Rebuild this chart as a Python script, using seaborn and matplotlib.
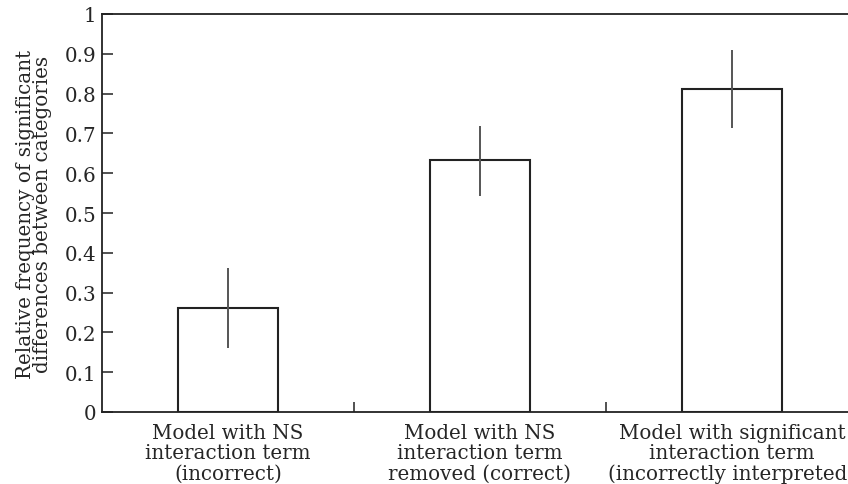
import matplotlib
matplotlib.use("Agg")
import matplotlib.pyplot as plt
import numpy as np
import pandas as pd
import seaborn as sns

categories = ["Model with NS\ninteraction term\n(incorrect)",
              "Model with NS\ninteraction term\nremoved (correct)",
              "Model with significant\ninteraction term\n(incorrectly interpreted)"]
freq = [0.262, 0.633, 0.812]
err_low = [0.161, 0.543, 0.714]
err_high = [0.362, 0.719, 0.910]

sns.set_style("ticks")
plt.rcParams["font.family"] = ["DejaVu Serif"]
FS = 14.3

df = pd.DataFrame({"model": categories, "freq": freq})

fig = plt.figure(figsize=(8.48, 4.85), dpi=100)
ax = fig.add_axes([102 / 848, 72 / 485, 756 / 848, 398 / 485])

sns.barplot(data=df, x="model", y="freq", color="white", edgecolor="#222222",
            linewidth=1.5, width=0.4, ax=ax)
ax.errorbar(np.arange(len(freq)), freq,
            yerr=[np.array(freq) - np.array(err_low), np.array(err_high) - np.array(freq)],
            fmt="none", ecolor="#555555", elinewidth=1.4, capsize=0)

ax.set_xlim(-0.5, 2.5)
ax.set_ylim(0, 1)
ax.set_yticks(np.arange(0, 1.01, 0.1))
ax.set_yticklabels(["0"] + [f"{v:.1f}" for v in np.arange(0.1, 0.95, 0.1)] + ["1"])
ax.set_xticks([0.5, 1.5], minor=True)
ax.tick_params(axis="x", which="major", length=0, labelsize=FS, pad=8)
ax.tick_params(axis="x", which="minor", direction="in", length=7, width=1.2, color="#333333")
ax.tick_params(axis="y", direction="in", length=8, width=1.2, color="#333333", labelsize=FS, pad=4)
ax.set_xlabel("")
ax.set_ylabel("Relative frequency of significant\ndifferences between categories",
              fontsize=FS, linespacing=0.9, labelpad=9)

for side in ["left", "bottom", "top"]:
    ax.spines[side].set_linewidth(1.3)
    ax.spines[side].set_color("#222222")
ax.spines["right"].set_visible(False)

for lab in ax.get_xticklabels():
    lab.set_linespacing(1.08)

fig.savefig("out.png", dpi=100)
